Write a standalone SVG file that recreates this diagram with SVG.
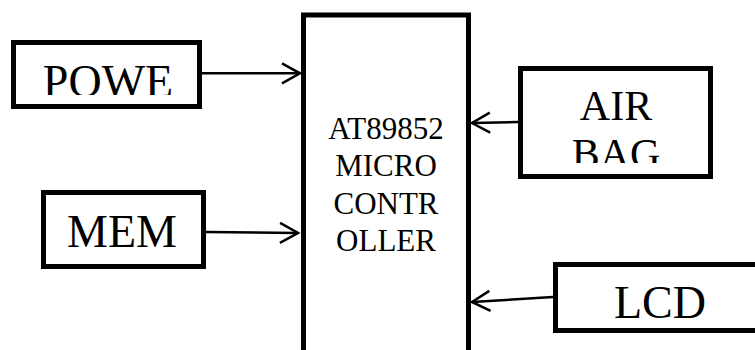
<svg xmlns="http://www.w3.org/2000/svg" width="755" height="350" viewBox="0 0 755 350">
<style>
.box{fill:#fff;stroke:#000;stroke-width:5}
.lbl{font-family:"Liberation Serif","Times New Roman",serif;fill:#000;text-anchor:middle}
.big{font-size:46px}
.mid{font-size:42px}
.mc{font-size:31px}
.conn{stroke:#000;stroke-width:2.5;fill:none;marker-end:url(#arr)}
</style>
<defs>
<marker id="arr" markerUnits="userSpaceOnUse" markerWidth="24" markerHeight="24" refX="18" refY="10" orient="auto" overflow="visible">
<path d="M0,0 L18,10 L0,20" fill="none" stroke="#000" stroke-width="2.5"/>
</marker>
<clipPath id="cpPowe"><rect x="0" y="0" width="300" height="95"/></clipPath>
<clipPath id="cpBag"><rect x="500" y="0" width="255" height="163"/></clipPath>
</defs>
<rect width="755" height="350" fill="#fff"/>
<g id="controller">
<rect class="box" x="303.5" y="15" width="165" height="360"/>
<text class="lbl mc" x="386" y="139">AT89852</text>
<text class="lbl mc" x="386" y="176">MICRO</text>
<text class="lbl mc" x="386" y="214">CONTR</text>
<text class="lbl mc" x="386" y="251">OLLER</text>
</g>
<g id="power">
<rect class="box" x="13.5" y="42.5" width="186" height="64"/>
<text class="lbl big" x="108" y="97" clip-path="url(#cpPowe)">POWE</text>
</g>
<g id="mem">
<rect class="box" x="43.5" y="192.5" width="160" height="74"/>
<text class="lbl big" x="122" y="247">MEM</text>
</g>
<g id="airbag">
<rect class="box" x="520.5" y="68.5" width="190" height="108"/>
<text class="lbl mid" x="616" y="120">AIR</text>
<text class="lbl mid" x="616" y="168" clip-path="url(#cpBag)">BAG</text>
</g>
<g id="lcd">
<rect class="box" x="555.5" y="264.5" width="215" height="66"/>
<text class="lbl big" x="660" y="318">LCD</text>
</g>
<g id="connectors">
<line class="conn" x1="202" y1="73.3" x2="300" y2="73.3"/>
<line class="conn" x1="206" y1="232" x2="298" y2="233"/>
<line class="conn" x1="518" y1="122" x2="472" y2="123"/>
<line class="conn" x1="553" y1="297" x2="472" y2="302"/>
</g>
</svg>
